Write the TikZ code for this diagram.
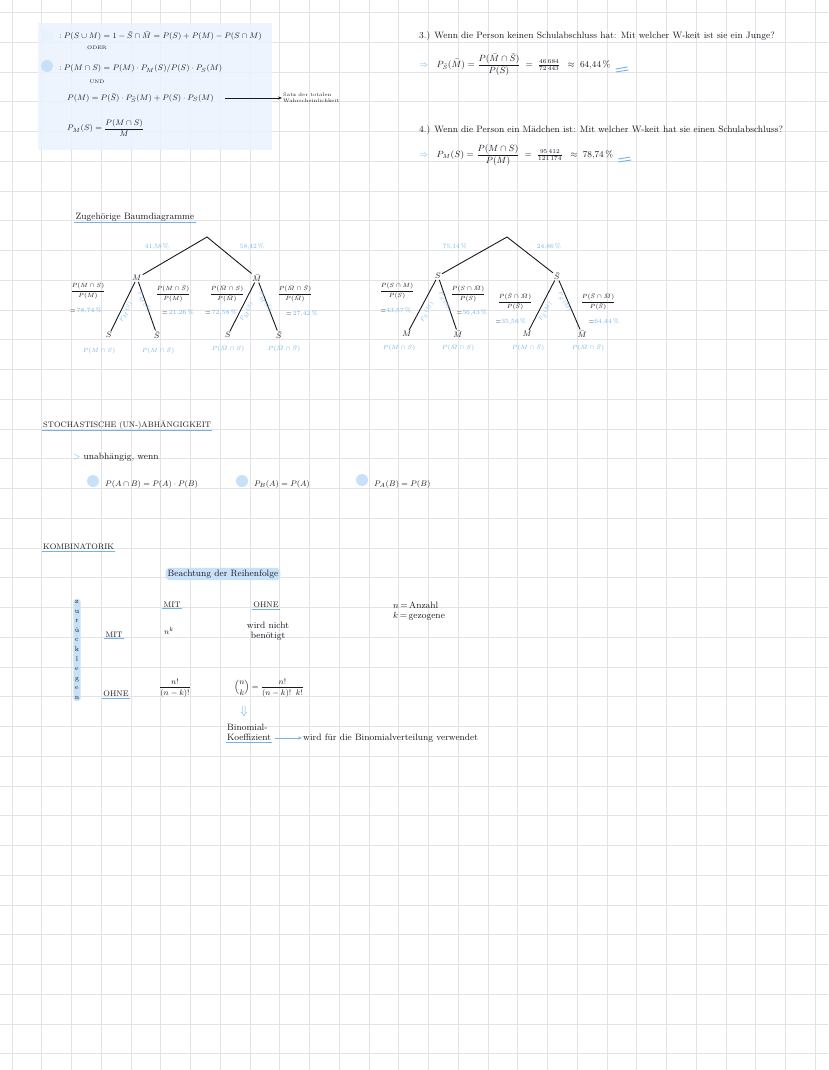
\documentclass[tikz,border=0pt]{standalone}
\usepackage{amsmath, amssymb}
\usepackage{tikz}
\usetikzlibrary{arrows.meta, positioning}
\usepackage{xcolor}
\definecolor{notesblue}{RGB}{115,180,232}
\definecolor{lightblue}{RGB}{200,225,249}
\definecolor{boxblue}{RGB}{236,243,253}
\definecolor{gridgray}{RGB}{226,226,231}
\definecolor{ink}{RGB}{25,25,32}

\tikzset{
  prose/.style={font=\fontsize{9.2}{10}\selectfont, text=ink, inner sep=1pt},
  txt/.style={font=\fontsize{8}{9}\selectfont, text=ink, inner sep=1pt},
  frac/.style={font=\fontsize{6.3}{7}\selectfont, text=ink, inner sep=0.5pt},
  tiny/.style={font=\fontsize{5}{6}\selectfont, text=ink, inner sep=1pt},
  bluetxt/.style={font=\fontsize{6.5}{8}\selectfont, text=notesblue, inner sep=1pt},
  legtxt/.style={font=\fontsize{5}{6}\selectfont, text=notesblue, inner sep=0.5pt},
  branch/.style={draw=ink, line width=0.9pt},
  uline/.style={draw=notesblue, line width=0.9pt},
  dot/.style={circle, fill=lightblue, minimum size=12pt, inner sep=0pt},
  mark box/.style={fill=lightblue, rounded corners=4pt, inner sep=2pt},
}

\begin{document}
\begin{tikzpicture}[x=1pt, y=-1pt]
\useasboundingbox (0,0) rectangle (828,1070);
\fill[white] (0,0) rectangle (828,1070);

% grid paper
\foreach \gx in {0,...,27}
  \draw[gridgray, line width=0.8pt] ({12+29.75*\gx},0) -- ({12+29.75*\gx},1070);
\foreach \gy in {0,...,35}
  \draw[gridgray, line width=0.8pt] (0,{12.5+29.75*\gy}) -- (828,{12.5+29.75*\gy});

% summary box
\fill[boxblue, opacity=0.85] (38,23) rectangle (272,150);
\node[dot, rectangle, rounded corners=3pt, fill=lightblue!45] (dotA) at (47,37) {};
\node[dot] (dotB) at (47,66) {};
\node[txt, anchor=west] (eqA) at (58,36)
  {$:P(S\cup M)=1-\bar S\cap\bar M=P(S)+P(M)-P(S\cap M)$};
\node[tiny] (oder) at (97,48) {ODER};
\node[txt, anchor=west] (eqB) at (58,69)
  {$:P(M\cap S)=P(M)\cdot P_M(S)/P(S)\cdot P_S(M)$};
\node[tiny] (und) at (97,82) {UND};
\node[txt, anchor=west] (eqC) at (66,98)
  {$P(M)=P(\bar S)\cdot P_{\bar S}(M)+P(S)\cdot P_S(M)$};
\node[tiny, anchor=north west, align=left] (satz) at (282,92)
  {Satz der totalen\\Wahrscheinlichkeit};
\draw[-{Stealth[length=4pt]}, ink, line width=0.7pt, shorten <=10pt]
  (eqC.east) -- (eqC.east -| satz.west);
\node[txt, anchor=west] (eqD) at (66,128) {$P_M(S)=\dfrac{P(M\cap S)}{M}$};

% question 3
\node[prose, anchor=west] (q3) at (418,36)
  {3.) Wenn die Person keinen Schulabschluss hat: Mit welcher W-keit ist sie ein Junge?};
\node[prose, anchor=west] (a3) at (418,65)
  {\textcolor{notesblue}{$\Rightarrow$}\;\; $P_{\bar S}(\bar M)=\dfrac{P(\bar M\cap\bar S)}{P(\bar S)}
   \;=\;\frac{46\,684}{72\,443}\;\;\approx\;64{,}44\,\%$};
\draw[uline] (a3.east) ++(4,4) -- ++(12,-2);
\draw[uline] (a3.east) ++(4,7) -- ++(13,-2);

% question 4
\node[prose, anchor=west] (q4) at (418,130)
  {4.) Wenn die Person ein Mädchen ist: Mit welcher W-keit hat sie einen Schulabschluss?};
\node[prose, anchor=west] (a4) at (418,155)
  {\textcolor{notesblue}{$\Rightarrow$}\;\; $P_M(S)=\dfrac{P(M\cap S)}{P(M)}
   \;=\;\frac{95\,412}{121\,174}\;\;\approx\;78{,}74\,\%$};
\draw[uline] (a4.east) ++(4,4) -- ++(12,-2);
\draw[uline] (a4.east) ++(4,7) -- ++(13,-2);

% tree 1: M first
\node[prose] (ttl) at (135,217) {Zugehörige Baumdiagramme};
\draw[uline] (ttl.south west) -- (ttl.south east);
\coordinate (rootL) at (207,237);
\node[txt] (M) at (137,278) {$M$};
\node[txt] (Mb) at (257,278) {$\bar M$};
\node[txt] (MS) at (109,335) {$S$};
\node[txt] (MSb) at (157,335) {$\bar S$};
\node[txt] (MbS) at (228,335) {$S$};
\node[txt] (MbSb) at (279,335) {$\bar S$};
\draw[branch] (M) -- (rootL) -- (Mb);
\draw[branch] (MS) -- (M) -- (MSb);
\draw[branch] (MbS) -- (Mb) -- (MbSb);
\node[bluetxt] (pM) at (157,247) {41,58\,\%};
\node[bluetxt] (pMb) at (252,247) {58,42\,\%};
\node[legtxt, rotate=62] (lMS) at (126,312) {$P_M(S)$};
\node[legtxt, rotate=-62] (lMSb) at (144,302) {$P_M(\bar S)$};
\node[legtxt, rotate=62] (lMbS) at (247,312) {$P_{\bar M}(S)$};
\node[legtxt, rotate=-62] (lMbSb) at (265,302) {$P_{\bar M}(\bar S)$};
\node[frac] (fMS) at (88,291) {$\dfrac{P(M\cap S)}{P(M)}$};
\node[frac] (vMS) at (86,311) {$=$\,\textcolor{notesblue}{78,74\,\%}};
\node[frac] (fMSb) at (173,294) {$\dfrac{P(M\cap\bar S)}{P(M)}$};
\node[frac] (vMSb) at (178,313) {$=$\,\textcolor{notesblue}{21,26\,\%}};
\node[frac] (fMbS) at (227,294) {$\dfrac{P(\bar M\cap S)}{P(\bar M)}$};
\node[frac] (vMbS) at (221,313) {$=$\,\textcolor{notesblue}{72,58\,\%}};
\node[frac] (fMbSb) at (295,294) {$\dfrac{P(\bar M\cap\bar S)}{P(\bar M)}$};
\node[frac] (vMbSb) at (302,314) {$=$\,\textcolor{notesblue}{27,42\,\%}};
\node[bluetxt] (eMS) at (99,351) {$P(M\cap S)$};
\node[bluetxt] (eMSb) at (158,351) {$P(M\cap\bar S)$};
\node[bluetxt] (eMbS) at (228,349) {$P(\bar M\cap S)$};
\node[bluetxt] (eMbSb) at (284,349) {$P(\bar M\cap\bar S)$};

% tree 2: S first
\coordinate (rootR) at (507,237);
\node[txt] (S) at (438,276) {$S$};
\node[txt] (Sb) at (557,276) {$\bar S$};
\node[txt] (SM) at (407,334) {$M$};
\node[txt] (SMb) at (458,334) {$\bar M$};
\node[txt] (SbM) at (527,334) {$M$};
\node[txt] (SbMb) at (582,334) {$\bar M$};
\draw[branch] (S) -- (rootR) -- (Sb);
\draw[branch] (SM) -- (S) -- (SMb);
\draw[branch] (SbM) -- (Sb) -- (SbMb);
\node[bluetxt] (pS) at (455,247) {75,14\,\%};
\node[bluetxt] (pSb) at (549,247) {24,86\,\%};
\node[legtxt, rotate=62] (lSM) at (427,312) {$P_S(M)$};
\node[legtxt, rotate=-62] (lSMb) at (445,302) {$P_S(\bar M)$};
\node[legtxt, rotate=62] (lSbM) at (546,312) {$P_{\bar S}(M)$};
\node[legtxt, rotate=-62] (lSbMb) at (564,302) {$P_{\bar S}(\bar M)$};
\node[frac] (fSM) at (397,291) {$\dfrac{P(S\cap M)}{P(S)}$};
\node[frac] (vSM) at (396,311) {$=$\textcolor{notesblue}{43,57\,\%}};
\node[frac] (fSMb) at (468,294) {$\dfrac{P(S\cap\bar M)}{P(S)}$};
\node[frac] (vSMb) at (472,313) {$=$\textcolor{notesblue}{56,43\,\%}};
\node[frac] (fSbM) at (515,302) {$\dfrac{P(\bar S\cap\bar M)}{P(\bar S)}$};
\node[frac] (vSbM) at (511,322) {$=$\textcolor{notesblue}{35,56\,\%}};
\node[frac] (fSbMb) at (598,302) {$\dfrac{P(\bar S\cap\bar M)}{P(\bar S)}$};
\node[frac] (vSbMb) at (604,322) {$=$\textcolor{notesblue}{64,44\,\%}};
\node[bluetxt] (eSM) at (399,348) {$P(M\cap S)$};
\node[bluetxt] (eSMb) at (458,348) {$P(\bar M\cap S)$};
\node[bluetxt] (eSbM) at (528,348) {$P(M\cap\bar S)$};
\node[bluetxt] (eSbMb) at (588,348) {$P(\bar M\cap\bar S)$};

% stochastic independence
\node[txt, anchor=west] (stoch) at (42,425) {STOCHASTISCHE (UN-)ABHÄNGIGKEIT};
\draw[uline] (stoch.south west) -- (stoch.south east);
\node[prose, anchor=west] (unab) at (72,457) {\textcolor{notesblue}{>} unabhängig, wenn};
\node[dot] (dotC) at (93,481) {};
\node[txt, anchor=west] (indA) at (104,484) {$P(A\cap B)=P(A)\cdot P(B)$};
\node[dot] (dotD) at (242,481) {};
\node[txt, anchor=west] (indB) at (253,484) {$P_B(A)=P(A)$};
\node[dot] (dotE) at (362,480) {};
\node[txt, anchor=west] (indC) at (373,484) {$P_A(B)=P(B)$};

% combinatorics table
\node[txt, anchor=west] (kombi) at (42,547) {KOMBINATORIK};
\draw[uline] (kombi.south west) -- (kombi.south east);
\node[prose, mark box] (order) at (223,574) {Beachtung der Reihenfolge};
\node[txt] (cMit) at (172,605) {MIT};
\draw[uline] (cMit.south west) -- (cMit.south east);
\node[txt] (cOhne) at (266,605) {OHNE};
\draw[uline] (cOhne.south west) -- (cOhne.south east);
\node[txt, mark box, rounded corners=3pt, inner sep=1.5pt, align=center,
  font=\fontsize{7}{9.6}\selectfont] (zurueck) at (77,650)
  {z\\u\\r\\ü\\c\\k\\l\\e\\g\\e\\n};
\node[txt] (rMit) at (114,635) {MIT};
\draw[uline] (rMit.south west) -- (rMit.south east);
\node[txt] (rOhne) at (116,694) {OHNE};
\draw[uline] (rOhne.south west) -- (rOhne.south east);
\node[txt] (mm) at (169,631) {$n^k$};
\node[prose, align=center] (om) at (268,631) {wird nicht\\benötigt};
\node[txt] (mo) at (175,688) {$\dfrac{n!}{(n-k)!}$};
\node[txt, anchor=west] (oo) at (233,688) {$\dbinom{n}{k}=\dfrac{n!}{(n-k)!\;\;k!}$};
\node[prose, anchor=west, align=left] (legend) at (392,611) {$n$\,=\,Anzahl\\$k$\,=\,gezogene};
\node[font=\fontsize{13}{14}\selectfont, text=notesblue, inner sep=0pt] (down) at (244,711) {$\Downarrow$};
\node[prose, anchor=north west, align=left] (binko) at (226,723) {Binomial-\\Koeffizient};
\draw[uline] ([yshift=-1pt]binko.south west) -- ([yshift=-1pt]binko.south east);
\node[prose, anchor=west] (verw) at (302,738) {wird für die Binomialverteilung verwendet};
\draw[-{Stealth[length=4pt]}, notesblue, line width=0.8pt, shorten <=3pt]
  (verw.west -| binko.east) -- (verw.west);

\end{tikzpicture}
\end{document}
